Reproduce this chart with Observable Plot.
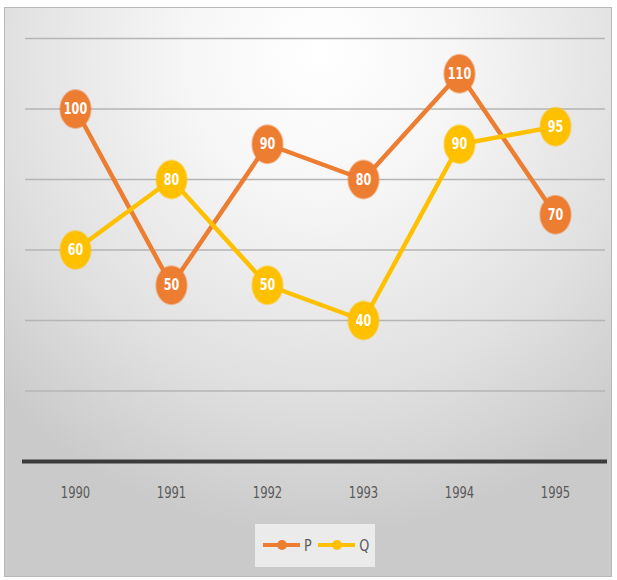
<!DOCTYPE html>
<html>
<head>
<meta charset="utf-8">
<script src="https://cdn.jsdelivr.net/npm/d3@7"></script>
<script src="https://cdn.jsdelivr.net/npm/@observablehq/plot@0.6"></script>
<style>
  html, body { margin: 0; padding: 0; background: #fff; }
  #wrap { position: relative; width: 617px; height: 580px; overflow: hidden; }
  #bg { position: absolute; left: 4px; top: 7px; width: 606px; height: 568px;
        border: 1px solid #b8b8b8;
        background: radial-gradient(ellipse 75% 85% at 52% 8%, #ffffff 0%, #f6f6f6 30%, #e0e0e0 70%, #cacaca 100%); }
  #chart { position: absolute; left: 0; top: 0; }
  #legend { position: absolute; left: 255px; top: 524px; width: 120px; height: 43px;
            background: #ebebeb; }
</style>
</head>
<body>
<div id="wrap">
  <div id="bg"></div>
  <div id="chart"></div>
  <div id="legend"></div>
</div>
<script>
const years = ["1990", "1991", "1992", "1993", "1994", "1995"];
const seriesNames = ["P", "Q"];
const pValues = [100, 50, 90, 80, 110, 70];
const qValues = [60, 80, 50, 40, 90, 95];
const gridTicks = [20, 40, 60, 80, 100, 120];
const colors = { P: "#ED7D31", Q: "#FFC000" };

const data = [
  ...years.map((y, i) => ({ year: y, value: pValues[i], series: "P" })),
  ...years.map((y, i) => ({ year: y, value: qValues[i], series: "Q" }))
];

const font = '"DejaVu Sans", sans-serif';

// ellipse symbol (taller than wide), drawn with bezier curves
const ellipse = {
  draw(context, size) {
    const ry = Math.sqrt(size / Math.PI), rx = ry * 0.8, k = 0.5523;
    context.moveTo(rx, 0);
    context.bezierCurveTo(rx, k * ry, k * rx, ry, 0, ry);
    context.bezierCurveTo(-k * rx, ry, -rx, k * ry, -rx, 0);
    context.bezierCurveTo(-rx, -k * ry, -k * rx, -ry, 0, -ry);
    context.bezierCurveTo(k * rx, -ry, rx, -k * ry, rx, 0);
    context.closePath();
  }
};

const plot = Plot.plot({
  width: 617,
  height: 505,
  marginTop: 38,
  marginBottom: 44,
  marginLeft: 25,
  marginRight: 12,
  style: { background: "transparent", fontFamily: font, fontSize: "14px", color: "#595959" },
  x: { type: "point", domain: years, padding: 0.5, label: null },
  y: { domain: [0, 120], axis: null },
  marks: [
    Plot.ruleY(gridTicks, { stroke: "#b5b5b5", strokeWidth: 1.3 }),
    Plot.ruleY([0], { stroke: "#3b3b3b", strokeWidth: 4, insetLeft: -3, insetRight: -2 }),
    Plot.axisX({ tickSize: 0, tickPadding: 25, fontSize: 16.5, fill: "#595959", label: null, fontFamily: font }),
    ...seriesNames.map(s => Plot.line(data.filter(d => d.series === s), {
      x: "year", y: "value", stroke: colors[s], strokeWidth: 4.5
    })),
    ...seriesNames.map(s => Plot.dot(data.filter(d => d.series === s), {
      x: "year", y: "value", r: 19, symbol: ellipse, fill: colors[s], stroke: colors[s], strokeOpacity: 0.45, strokeWidth: 2
    })),
    Plot.text(data, {
      x: "year", y: "value", text: d => String(d.value), fill: "white",
      fontWeight: "bold", fontSize: 16, fontFamily: font
    })
  ]
});
document.getElementById("chart").appendChild(plot);

// condense all text horizontally around its own centre (no narrow font available)
function condense(root, s) {
  d3.select(root).selectAll("text").each(function () {
    const b = this.getBBox();
    const cx = b.x + b.width / 2, cy = b.y + b.height / 2;
    const t = this.getAttribute("transform") || "";
    this.setAttribute("transform", `${t} translate(${cx},${cy}) scale(${s},1) translate(${-cx},${-cy})`);
  });
}
condense(plot, 0.7);

// legend
const lg = d3.select("#legend").append("svg").attr("width", 120).attr("height", 43);
seriesNames.forEach((s, i) => {
  const x0 = 8 + i * 55;
  lg.append("line").attr("x1", x0).attr("x2", x0 + 37).attr("y1", 21).attr("y2", 21)
    .attr("stroke", colors[s]).attr("stroke-width", 4);
  lg.append("circle").attr("cx", x0 + 19).attr("cy", 21).attr("r", 5).attr("fill", colors[s]);
  lg.append("text").attr("x", x0 + 40).attr("y", 27).text(s)
    .attr("font-family", font).attr("font-size", 16).attr("fill", "#595959");
});
condense(document.querySelector("#legend svg"), 0.8);
</script>
</body>
</html>
